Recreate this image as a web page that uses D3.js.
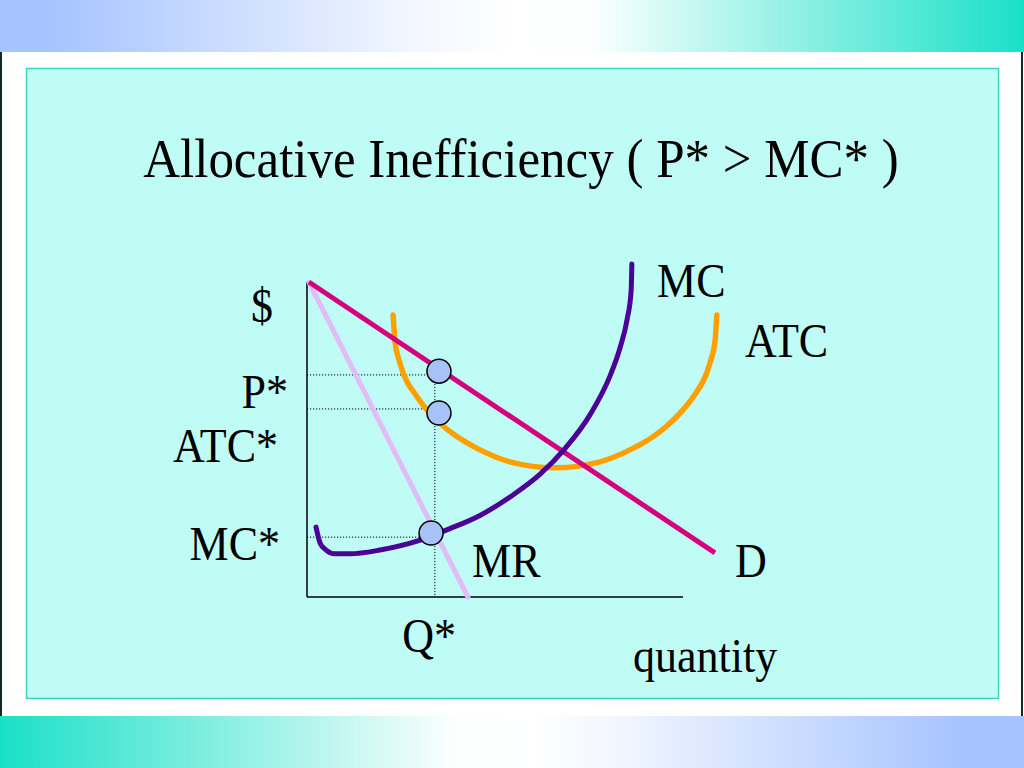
<!DOCTYPE html>
<html>
<head>
<meta charset="utf-8">
<script src="https://cdn.jsdelivr.net/npm/d3@7"></script>
<style>
html,body{margin:0;padding:0;background:#fff;overflow:hidden;}
svg{display:block;}
text{font-family:"Liberation Serif","Times New Roman",serif;fill:#000;}
</style>
</head>
<body>
<svg id="chart" width="1024" height="768"></svg>
<script>
// ---------- data (quantity, price) in chart units ----------
const titleText = "Allocative Inefficiency ( P* > MC* )";
const demand = [[0.05, 10.0], [10.85, 1.40]];
const marginalRevenue = [[0.05, 10.0], [4.28, 0.0]];
const marginalCost = [
  [0.24, 2.22], [0.35, 1.71], [0.51, 1.49], [0.74, 1.37], [1.14, 1.37],
  [1.94, 1.49], [2.95, 1.78], [3.80, 2.17], [4.60, 2.59], [5.48, 3.24],
  [6.20, 3.90], [6.86, 4.71], [7.53, 5.79], [8.06, 7.02], [8.32, 7.89],
  [8.51, 8.79], [8.62, 9.71], [8.64, 10.57]
];
const averageTotalCost = [
  [2.29, 8.95], [2.34, 8.10], [2.45, 7.52], [2.55, 7.14], [2.93, 6.35],
  [3.19, 5.94], [3.62, 5.43], [4.26, 4.89], [4.60, 4.67], [5.40, 4.29],
  [6.60, 4.10], [7.79, 4.29], [8.59, 4.67], [8.94, 4.89], [9.57, 5.43],
  [10.00, 5.94], [10.27, 6.35], [10.64, 7.14], [10.74, 7.52], [10.85, 8.10],
  [10.90, 8.95]
];
const qStar = 3.40;
const refLevels = [7.05, 5.97, 1.90];          // P*, ATC*, MC*
const markerPoints = [[3.51, 7.17], [3.51, 5.84], [3.30, 2.03]];
const yLabels = ["$", "P*", "ATC*", "MC*"];
const yLabelValues = [8.73, 5.99, 4.27, 1.17]; // baseline levels
const curveLabels = ["MC", "ATC", "MR", "D"];
const curveLabelPos = [[9.31, 9.52], [11.65, 7.62], [4.39, 0.63], [11.38, 0.63]];
const xLabels = ["Q*", "quantity"];
const xLabelPos = [[2.53, -1.75], [8.67, -2.38]];

// ---------- layout ----------
const W = 1024, H = 768;
const svg = d3.select("#chart");
const x = d3.scaleLinear().domain([0, 10]).range([307, 683]);
const y = d3.scaleLinear().domain([0, 10]).range([597, 282]);

// backgrounds
const defs = svg.append("defs");
function grad(id, stops) {
  const g = defs.append("linearGradient").attr("id", id).attr("x1", "0").attr("x2", "1").attr("y1", "0").attr("y2", "0");
  stops.forEach(s => g.append("stop").attr("offset", s[0]).attr("stop-color", s[1]));
}
grad("gTop", [[0, "#a6c4ff"], [0.05, "#a6c4ff"], [0.40, "#f2f6ff"], [0.50, "#ffffff"], [0.58, "#fafffe"], [1, "#1ae0c8"]]);
grad("gBot", [[0, "#1ae0c8"], [0.44, "#fafffe"], [0.52, "#ffffff"], [0.60, "#f2f6ff"], [0.94, "#a6c4ff"], [1, "#a6c4ff"]]);

svg.append("rect").attr("x", 0).attr("y", 0).attr("width", W).attr("height", H).attr("fill", "#ffffff");
svg.append("rect").attr("x", 0).attr("y", 0).attr("width", W).attr("height", 52).attr("fill", "url(#gTop)");
svg.append("rect").attr("x", 0).attr("y", 716).attr("width", W).attr("height", 52).attr("fill", "url(#gBot)");
svg.append("line").attr("x1", 1).attr("x2", 1).attr("y1", 52).attr("y2", 716).attr("stroke", "#102828").attr("stroke-width", 2);
svg.append("line").attr("x1", 1022).attr("x2", 1022).attr("y1", 52).attr("y2", 716).attr("stroke", "#102828").attr("stroke-width", 2);
svg.append("rect").attr("x", 26.5).attr("y", 68.5).attr("width", 972).attr("height", 630)
  .attr("fill", "#c0fcf6").attr("stroke", "#38d4c4").attr("stroke-width", 1.5);

// text helper with slight vertical stretch
function label(txt, px, py, size, anchor) {
  svg.append("text")
    .attr("transform", `translate(${px},${py}) scale(1,1.08)`)
    .attr("text-anchor", anchor || "start")
    .attr("font-size", size)
    .text(txt);
}

label(titleText, 521, 177, 51, "middle");

// dotted reference lines
const dotted = svg.append("g").attr("stroke", "#000").attr("stroke-width", 1).attr("stroke-dasharray", "1.2,1.8").attr("fill", "none");
refLevels.forEach(v => {
  dotted.append("line").attr("x1", x(0)).attr("x2", x(qStar)).attr("y1", y(v)).attr("y2", y(v));
});
dotted.append("line").attr("x1", x(qStar)).attr("x2", x(qStar)).attr("y1", y(refLevels[0])).attr("y2", y(0));

// axes
const axes = svg.append("g").attr("stroke", "#000").attr("stroke-width", 1.5);
axes.append("line").attr("x1", x(0)).attr("x2", x(0)).attr("y1", y(10)).attr("y2", y(0));
axes.append("line").attr("x1", x(0)).attr("x2", x(10)).attr("y1", y(0)).attr("y2", y(0));

const line = d3.line().x(d => x(d[0])).y(d => y(d[1]));
const smooth = d3.line().x(d => x(d[0])).y(d => y(d[1])).curve(d3.curveMonotoneX);

svg.append("path").datum(marginalRevenue).attr("d", line).attr("fill", "none")
  .attr("stroke", "#e2bcf6").attr("stroke-width", 5).attr("stroke-linecap", "round");
svg.append("path").datum(averageTotalCost).attr("d", smooth).attr("fill", "none")
  .attr("stroke", "#ffa000").attr("stroke-width", 5.5).attr("stroke-linecap", "round");
svg.append("path").datum(demand).attr("d", line).attr("fill", "none")
  .attr("stroke", "#d6007e").attr("stroke-width", 5).attr("stroke-linecap", "butt");
svg.append("path").datum(marginalCost).attr("d", smooth).attr("fill", "none")
  .attr("stroke", "#4d0096").attr("stroke-width", 5).attr("stroke-linecap", "round");

// markers
svg.selectAll("circle.mk").data(markerPoints).join("circle")
  .attr("class", "mk")
  .attr("cx", d => x(d[0])).attr("cy", d => y(d[1])).attr("r", 12)
  .attr("fill", "#a6c2f6").attr("stroke", "#000").attr("stroke-width", 1.5);

// labels
const yLabelEnds = [273, 288, 278, 280];
yLabels.forEach((t, i) => label(t, yLabelEnds[i], y(yLabelValues[i]), 44, "end"));
curveLabels.forEach((t, i) => label(t, x(curveLabelPos[i][0]), y(curveLabelPos[i][1]), 44));
xLabels.forEach((t, i) => label(t, x(xLabelPos[i][0]), y(xLabelPos[i][1]), 44));
</script>
</body>
</html>
